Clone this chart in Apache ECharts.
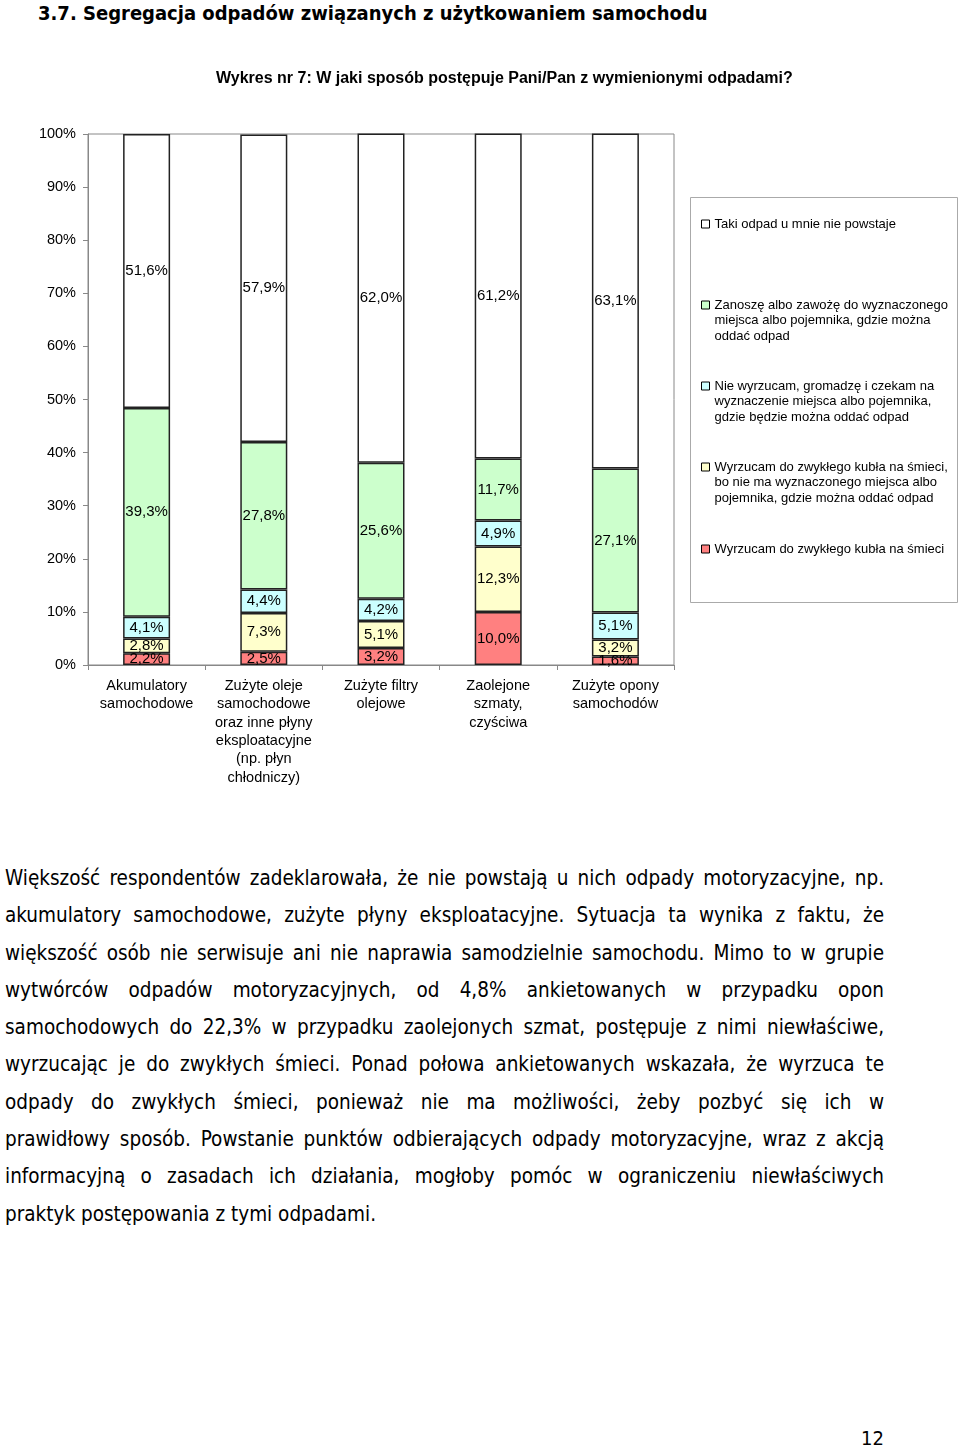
<!DOCTYPE html>
<html><head><meta charset="utf-8">
<script src="https://cdn.jsdelivr.net/npm/echarts@6/dist/echarts.min.js"></script>
<style>
html,body{margin:0;padding:0;background:#fff;width:960px;height:1446px;overflow:hidden;position:relative;}
#chart{position:absolute;left:0;top:0;width:960px;height:800px;}
.heading{position:absolute;left:38px;top:-1px;font:bold 20px 'DejaVu Sans Condensed';line-height:28px;color:#000;white-space:nowrap;}
.body{position:absolute;left:5px;top:860px;width:879px;font:20.5px 'DejaVu Sans Condensed';line-height:37.3px;color:#000;}
.body div{text-align:justify;text-align-last:justify;white-space:nowrap;}
.body div.last{text-align-last:left;}
.page{position:absolute;right:76px;top:1424px;font:20px 'DejaVu Sans Condensed';line-height:28px;color:#000;}
</style></head>
<body>
<div class="heading">3.7. Segregacja odpadów związanych z użytkowaniem samochodu</div>
<div id="chart"></div>
<div class="body">
<div>Większość respondentów zadeklarowała, że nie powstają u nich odpady motoryzacyjne, np.</div>
<div>akumulatory samochodowe, zużyte płyny eksploatacyjne. Sytuacja ta wynika z faktu, że</div>
<div>większość osób nie serwisuje ani nie naprawia samodzielnie samochodu. Mimo to w grupie</div>
<div>wytwórców odpadów motoryzacyjnych, od 4,8% ankietowanych w przypadku opon</div>
<div>samochodowych do 22,3% w przypadku zaolejonych szmat, postępuje z nimi niewłaściwe,</div>
<div>wyrzucając je do zwykłych śmieci. Ponad połowa ankietowanych wskazała, że wyrzuca te</div>
<div>odpady do zwykłych śmieci, ponieważ nie ma możliwości, żeby pozbyć się ich w</div>
<div>prawidłowy sposób. Powstanie punktów odbierających odpady motoryzacyjne, wraz z akcją</div>
<div>informacyjną o zasadach ich działania, mogłoby pomóc w ograniczeniu niewłaściwych</div>
<div class="last">praktyk postępowania z tymi odpadami.</div>
</div>
<div class="page">12</div>
<script>
const chartTitle = 'Wykres nr 7: W jaki sposób postępuje Pani/Pan z wymienionymi odpadami?';
const categories = [
  'Akumulatory\nsamochodowe',
  'Zużyte oleje\nsamochodowe\noraz inne płyny\neksploatacyjne\n(np. płyn\nchłodniczy)',
  'Zużyte filtry\nolejowe',
  'Zaolejone\nszmaty,\nczyściwa',
  'Zużyte opony\nsamochodów'
];
// series, bottom to top of the stack
const seriesNames = [
  'Wyrzucam do zwykłego kubła na śmieci',
  'Wyrzucam do zwykłego kubła na śmieci, bo nie ma wyznaczonego miejsca albo pojemnika, gdzie można oddać odpad',
  'Nie wyrzucam, gromadzę i czekam na wyznaczenie miejsca albo pojemnika, gdzie będzie można oddać odpad',
  'Zanoszę albo zawożę do wyznaczonego miejsca albo pojemnika, gdzie można oddać odpad',
  'Taki odpad u mnie nie powstaje'
];
const legendLines = [
  ['Wyrzucam do zwykłego kubła na śmieci'],
  ['Wyrzucam do zwykłego kubła na śmieci,', 'bo nie ma wyznaczonego miejsca albo', 'pojemnika, gdzie można oddać odpad'],
  ['Nie wyrzucam, gromadzę i czekam na', 'wyznaczenie miejsca albo pojemnika,', 'gdzie będzie można oddać odpad'],
  ['Zanoszę albo zawożę do wyznaczonego', 'miejsca albo pojemnika, gdzie można', 'oddać odpad'],
  ['Taki odpad u mnie nie powstaje']
];
const redValues    = [2.2, 2.5, 3.2, 10.0, 1.6];
const yellowValues = [2.8, 7.3, 5.1, 12.3, 3.2];
const blueValues   = [4.1, 4.4, 4.2, 4.9, 5.1];
const greenValues  = [39.3, 27.8, 25.6, 11.7, 27.1];
const whiteValues  = [51.6, 57.9, 62.0, 61.2, 63.1];
const seriesValues = [redValues, yellowValues, blueValues, greenValues, whiteValues];
const seriesColors = ['#FF8080', '#FFFFCC', '#CCFFFF', '#CCFFCC', '#FFFFFF'];
const yMin = 0, yMax = 100, yStep = 10;

const FONT = 'Liberation Sans';
const fmt = v => v.toFixed(1).replace('.', ',') + '%';

// fit over-long justified body lines
(function () {
  const c = document.createElement('canvas').getContext('2d');
  c.font = '20.5px "DejaVu Sans Condensed"';
  document.querySelectorAll('.body div').forEach(d => {
    const t = d.textContent;
    const w = c.measureText(t).width;
    if (w > 877) d.style.letterSpacing = ((877 - w) / t.length).toFixed(3) + 'px';
  });
})();

// legend order top to bottom
const legendOrder = [4, 3, 2, 1, 0];
const legendIconY = [220, 301, 382, 463, 545];
const LH = 15.6;

const chart = echarts.init(document.getElementById('chart'), null, {renderer: 'canvas'});
chart.setOption({
  animation: false,
  title: {
    text: chartTitle, left: 216, top: 71, padding: 0,
    textStyle: {fontFamily: FONT, fontSize: 16, fontWeight: 'bold', color: '#000'}
  },
  grid: {left: 88, right: 286, top: 134, height: 531, show: true, borderColor: '#888', borderWidth: 1},
  xAxis: {
    type: 'category', data: categories,
    axisLine: {lineStyle: {color: '#888', width: 1}},
    axisTick: {show: true, length: 5, lineStyle: {color: '#888'}},
    axisLabel: {interval: 0, color: '#000', fontFamily: FONT, fontSize: 14.5, lineHeight: 18.3, margin: 12}
  },
  yAxis: {
    type: 'value', min: yMin, max: yMax, interval: yStep,
    axisLine: {show: true, lineStyle: {color: '#888', width: 1}},
    axisTick: {show: true, length: 5, lineStyle: {color: '#888'}},
    splitLine: {show: false},
    axisLabel: {formatter: '{value}%', color: '#000', fontFamily: FONT, fontSize: 14.5, margin: 12}
  },
  legend: legendOrder.map((idx, k) => {
    const lines = legendLines[idx];
    const n = lines.length;
    const txt = '\n'.repeat(n - 1) + lines.join('\n');
    const halfH = (2 * n - 1) * LH / 2;
    return {
      data: [seriesNames[idx]],
      left: 701,
      top: legendIconY[k] - Math.max(0, halfH - 4),
      padding: 0, orient: 'vertical', icon: 'rect', itemWidth: 8, itemHeight: 8,
      selectedMode: false,
      itemStyle: {borderColor: '#000', borderWidth: 1},
      formatter: () => txt,
      textStyle: {fontFamily: FONT, fontSize: 13, color: '#000', lineHeight: LH}
    };
  }),
  graphic: [{
    type: 'rect', left: 690, top: 197, z: -10,
    shape: {width: 267, height: 405},
    style: {fill: '#fff', stroke: '#aaa', lineWidth: 1}
  }],
  series: seriesNames.map((name, i) => ({
    name, type: 'bar', stack: 'total', barWidth: 47,
    data: seriesValues[i],
    itemStyle: {color: seriesColors[i], borderColor: '#222', borderWidth: 1.5},
    label: {show: true, position: 'inside', formatter: p => fmt(p.value),
      color: '#000', fontFamily: FONT, fontSize: 15}
  }))
});
</script>
</body></html>
